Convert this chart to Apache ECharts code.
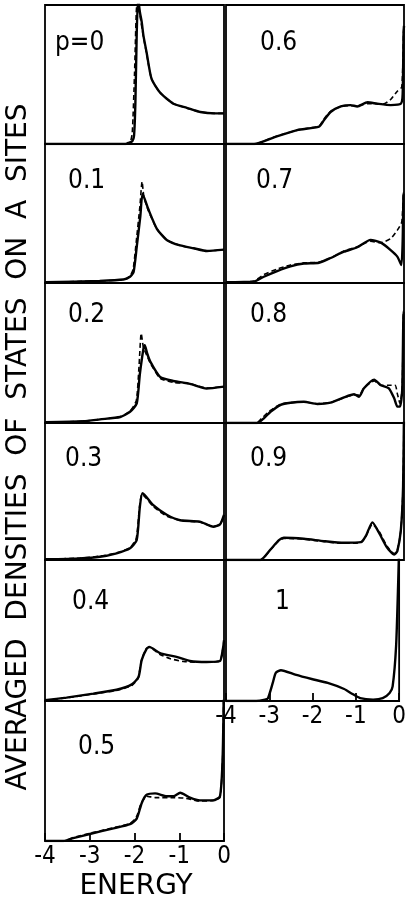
<!DOCTYPE html>
<html>
<head>
<meta charset="utf-8">
<script src="https://cdn.jsdelivr.net/npm/echarts@6/dist/echarts.min.js"></script>
<style>
  html, body { margin: 0; padding: 0; background: #fff; }
  #chart { width: 409px; height: 905px; }
</style>
</head>
<body>
<div id="chart"></div>
<script>
// panel labels (concentration p)
var panelNames = ['p=0', '0.1', '0.2', '0.3', '0.4', '0.5', '0.6', '0.7', '0.8', '0.9', '1']
var energyTicks = [-4, -3, -2, -1, 0]

// [energy, density], solid and dashed curves
var s0 = [[-4, 0], [-2.2, 0], [-2.12, 0.01], [-2.05, 0.02], [-2.01, 0.06], [-1.98, 0.3], [-1.95, 0.8], [-1.92, 1.05], [-1.88, 0.95], [-1.84, 0.88], [-1.8, 0.78], [-1.73, 0.66], [-1.62, 0.47], [-1.43, 0.37], [-1.13, 0.29], [-0.83, 0.26], [-0.53, 0.23], [-0.2, 0.22], [0, 0.22]]
var d0 = [[-4, 0], [-2.2, 0], [-2.1, 0.01], [-2.05, 0.08], [-2.0, 0.5], [-1.96, 0.95], [-1.93, 1.05], [-1.88, 0.93], [-1.8, 0.77], [-1.73, 0.65], [-1.62, 0.47], [-1.43, 0.37], [-1.13, 0.29], [-0.83, 0.26], [-0.53, 0.23], [-0.2, 0.22], [0, 0.22]]

var s1 = [[-4, 0.005], [-2.78, 0.015], [-2.25, 0.025], [-2.1, 0.045], [-2.02, 0.08], [-1.95, 0.26], [-1.87, 0.48], [-1.82, 0.64], [-1.69, 0.53], [-1.5, 0.39], [-1.28, 0.31], [-0.98, 0.27], [-0.68, 0.25], [-0.38, 0.23], [0, 0.24]]
var d1 = [[-4, 0.005], [-2.78, 0.015], [-2.25, 0.025], [-2.1, 0.05], [-2.03, 0.1], [-1.96, 0.3], [-1.88, 0.55], [-1.83, 0.73], [-1.79, 0.62], [-1.69, 0.52], [-1.5, 0.39], [-1.28, 0.31], [-0.98, 0.27], [-0.68, 0.25], [-0.38, 0.23], [0, 0.24]]

var s2 = [[-4, 0.005], [-3.14, 0.012], [-2.77, 0.026], [-2.32, 0.043], [-2.1, 0.08], [-1.95, 0.14], [-1.88, 0.35], [-1.8, 0.53], [-1.77, 0.556], [-1.72, 0.5], [-1.65, 0.44], [-1.43, 0.33], [-1.13, 0.3], [-0.76, 0.28], [-0.39, 0.246], [0, 0.26]]
var d2 = [[-4, 0.005], [-3.14, 0.012], [-2.77, 0.026], [-2.32, 0.045], [-2.1, 0.085], [-1.96, 0.16], [-1.9, 0.4], [-1.85, 0.64], [-1.8, 0.54], [-1.72, 0.48], [-1.65, 0.43], [-1.43, 0.32], [-1.13, 0.29], [-0.76, 0.28], [-0.39, 0.25], [0, 0.26]]

var s3 = [[-4, 0.005], [-3.22, 0.012], [-2.77, 0.024], [-2.4, 0.049], [-2.1, 0.085], [-1.95, 0.146], [-1.88, 0.39], [-1.82, 0.487], [-1.58, 0.4], [-1.28, 0.33], [-0.98, 0.29], [-0.54, 0.28], [-0.24, 0.243], [-0.09, 0.26], [0, 0.33]]
var d3 = [[-4, 0.005], [-3.22, 0.014], [-2.77, 0.028], [-2.4, 0.052], [-2.1, 0.09], [-1.96, 0.16], [-1.89, 0.38], [-1.83, 0.48], [-1.58, 0.39], [-1.28, 0.32], [-0.98, 0.29], [-0.54, 0.275], [-0.24, 0.245], [-0.09, 0.26], [0, 0.32]]

var s4 = [[-4, 0.005], [-3.52, 0.024], [-2.92, 0.052], [-2.4, 0.08], [-2.06, 0.118], [-1.91, 0.17], [-1.84, 0.29], [-1.73, 0.37], [-1.67, 0.384], [-1.43, 0.34], [-1.06, 0.313], [-0.76, 0.284], [-0.39, 0.277], [-0.09, 0.284], [-0.03, 0.36], [0, 0.43]]
var d4 = [[-4, 0.005], [-3.52, 0.022], [-2.92, 0.05], [-2.4, 0.075], [-2.06, 0.11], [-1.92, 0.16], [-1.85, 0.28], [-1.74, 0.37], [-1.67, 0.38], [-1.43, 0.33], [-1.2, 0.3], [-0.9, 0.28], [-0.6, 0.275], [-0.3, 0.277], [-0.09, 0.284], [-0.03, 0.36], [0, 0.43]]

var s5 = [[-4, 0], [-3.59, 0], [-3.37, 0.02], [-3.0, 0.05], [-2.47, 0.09], [-2.1, 0.12], [-1.95, 0.16], [-1.84, 0.27], [-1.73, 0.33], [-1.54, 0.34], [-1.28, 0.32], [-1.13, 0.32], [-0.98, 0.345], [-0.76, 0.31], [-0.54, 0.29], [-0.24, 0.29], [-0.09, 0.32], [-0.03, 0.6], [0, 1.2]]
var d5 = [[-4, 0], [-3.59, 0], [-3.37, 0.025], [-3.0, 0.055], [-2.47, 0.095], [-2.1, 0.125], [-1.96, 0.17], [-1.85, 0.27], [-1.73, 0.32], [-1.54, 0.31], [-1.13, 0.31], [-0.85, 0.305], [-0.54, 0.285], [-0.24, 0.29], [-0.09, 0.31], [-0.03, 0.6], [0, 1.2]]

var s6 = [[-4, 0], [-3.37, 0], [-2.92, 0.048], [-2.4, 0.1], [-1.91, 0.125], [-1.8, 0.17], [-1.65, 0.23], [-1.42, 0.27], [-1.2, 0.28], [-1.05, 0.27], [-0.82, 0.3], [-0.6, 0.29], [-0.3, 0.28], [-0.07, 0.29], [-0.03, 0.36], [-0.01, 0.8], [0, 0.85]]
var d6 = [[-4, 0], [-3.37, 0], [-2.92, 0.05], [-2.4, 0.1], [-1.91, 0.13], [-1.8, 0.18], [-1.65, 0.235], [-1.42, 0.27], [-1.2, 0.275], [-1.05, 0.275], [-0.82, 0.29], [-0.6, 0.29], [-0.45, 0.29], [-0.3, 0.32], [-0.15, 0.38], [-0.05, 0.41], [-0.01, 0.8], [0, 0.85]]

var s7 = [[-4, 0.005], [-3.6, 0.008], [-3.37, 0.01], [-3.15, 0.045], [-2.85, 0.086], [-2.55, 0.12], [-2.25, 0.14], [-1.91, 0.146], [-1.65, 0.18], [-1.35, 0.225], [-1.05, 0.257], [-0.75, 0.31], [-0.52, 0.29], [-0.3, 0.237], [-0.15, 0.19], [-0.06, 0.13], [-0.03, 0.3], [-0.01, 0.65], [0, 0.65]]
var d7 = [[-4, 0.005], [-3.6, 0.008], [-3.37, 0.015], [-3.15, 0.06], [-2.85, 0.1], [-2.55, 0.13], [-2.25, 0.145], [-1.91, 0.15], [-1.65, 0.18], [-1.35, 0.23], [-1.05, 0.26], [-0.75, 0.3], [-0.52, 0.29], [-0.3, 0.32], [-0.15, 0.38], [-0.05, 0.44], [-0.01, 0.65], [0, 0.65]]

var s8 = [[-4, 0], [-3.3, 0], [-3.15, 0.033], [-3.0, 0.08], [-2.77, 0.13], [-2.55, 0.145], [-2.25, 0.152], [-1.95, 0.136], [-1.65, 0.145], [-1.35, 0.183], [-1.12, 0.205], [-1.01, 0.188], [-0.9, 0.248], [-0.67, 0.31], [-0.52, 0.27], [-0.34, 0.248], [-0.22, 0.176], [-0.15, 0.117], [-0.09, 0.117], [-0.04, 0.236], [-0.01, 0.8], [0, 0.8]]
var d8 = [[-4, 0], [-3.32, 0], [-3.18, 0.04], [-3.0, 0.09], [-2.77, 0.135], [-2.55, 0.145], [-2.25, 0.15], [-1.95, 0.138], [-1.65, 0.147], [-1.35, 0.18], [-1.12, 0.2], [-1.01, 0.2], [-0.9, 0.25], [-0.67, 0.3], [-0.52, 0.27], [-0.36, 0.27], [-0.2, 0.27], [-0.15, 0.21], [-0.09, 0.14], [-0.04, 0.25], [-0.01, 0.8], [0, 0.8]]

var s9 = [[-4, 0], [-3.23, 0], [-3.0, 0.077], [-2.81, 0.145], [-2.7, 0.162], [-2.25, 0.155], [-1.8, 0.138], [-1.35, 0.126], [-0.97, 0.13], [-0.86, 0.174], [-0.71, 0.275], [-0.56, 0.198], [-0.38, 0.09], [-0.22, 0.04], [-0.15, 0.065], [-0.07, 0.22], [-0.02, 0.54], [0, 1.1]]
var d9 = [[-4, 0], [-3.23, 0], [-3.0, 0.075], [-2.81, 0.14], [-2.7, 0.158], [-2.25, 0.152], [-1.8, 0.134], [-1.35, 0.122], [-0.97, 0.127], [-0.86, 0.17], [-0.71, 0.26], [-0.56, 0.21], [-0.38, 0.1], [-0.22, 0.045], [-0.15, 0.07], [-0.07, 0.22], [-0.02, 0.54], [0, 1.1]]

var s10 = [[-4, 0], [-3.3, 0], [-3.1, 0.01], [-3.03, 0.02], [-2.92, 0.128], [-2.85, 0.2], [-2.73, 0.218], [-2.4, 0.187], [-2.02, 0.156], [-1.65, 0.128], [-1.27, 0.085], [-1.09, 0.052], [-0.9, 0.02], [-0.6, 0.01], [-0.38, 0.02], [-0.22, 0.057], [-0.15, 0.104], [-0.07, 0.39], [-0.02, 0.86], [0, 1.1]]

var solid = [s0, s1, s2, s3, s4, s5, s6, s7, s8, s9, s10]
var dashed = [d0, d1, d2, d3, d4, d5, d6, d7, d8, d9, null]

var rows = [5, 144, 283, 423, 560, 701, 841]
var cols = [[45, 179], [226, 178]]
var font = '"DejaVu Sans Condensed", "DejaVu Sans", sans-serif'
var labelPos = [[55, 44], [68, 182], [68, 316], [65, 460], [72, 603], [78, 748],
                [260, 44], [256, 182], [250, 316], [250, 460], [275, 603]]

var grids = [], xAxes = [], yAxes = [], series = [], texts = []
for (var i = 0; i < solid.length; i++) {
    var c = i < 6 ? 0 : 1
    var r = i < 6 ? i : i - 6
    var bottom = (i == 5 || i == 10)
    grids.push({
        left: cols[c][0], width: cols[c][1],
        top: rows[r], height: rows[r + 1] - rows[r],
        show: true, borderColor: '#000', borderWidth: 1.8
    })
    xAxes.push({
        gridIndex: i, type: 'value', min: -4, max: 0, interval: 1,
        splitLine: { show: false },
        axisLine: { show: false },
        axisTick: { show: bottom, inside: true, length: 8, lineStyle: { color: '#000', width: 1.8 } },
        axisLabel: { show: bottom, color: '#000', fontSize: 24, fontFamily: font, margin: 4 }
    })
    yAxes.push({ gridIndex: i, type: 'value', min: 0, max: 1, show: false })
    series.push({
        type: 'line', xAxisIndex: i, yAxisIndex: i, data: solid[i],
        showSymbol: false, smooth: 0.2, clip: true,
        lineStyle: { color: '#000', width: 2.4 }
    })
    if (dashed[i]) {
        series.push({
            type: 'line', xAxisIndex: i, yAxisIndex: i, data: dashed[i],
            showSymbol: false, smooth: 0.2, clip: true,
            lineStyle: { color: '#000', width: 1.6, type: [5, 3] }
        })
    }
    texts.push({
        type: 'text', left: labelPos[i][0], top: labelPos[i][1] - 14,
        style: { text: panelNames[i], font: '26px ' + font, fill: '#000' }
    })
}

texts.push({
    type: 'text', x: 136, y: 887,
    style: { text: 'ENERGY', font: '28px "DejaVu Sans", sans-serif', fill: '#000', align: 'center', verticalAlign: 'middle' }
})
texts.push({
    type: 'text', x: 19, y: 447, rotation: Math.PI / 2,
    style: { text: 'AVERAGED  DENSITIES  OF  STATES  ON  A  SITES', font: '28px "DejaVu Sans", sans-serif', fill: '#000', align: 'center', verticalAlign: 'middle' }
})

var myChart = echarts.init(document.getElementById('chart'))
var option = {
    backgroundColor: '#fff',
    animation: false,
    grid: grids,
    xAxis: xAxes,
    yAxis: yAxes,
    series: series,
    graphic: texts
}
myChart.setOption(option)
</script>
</body>
</html>
